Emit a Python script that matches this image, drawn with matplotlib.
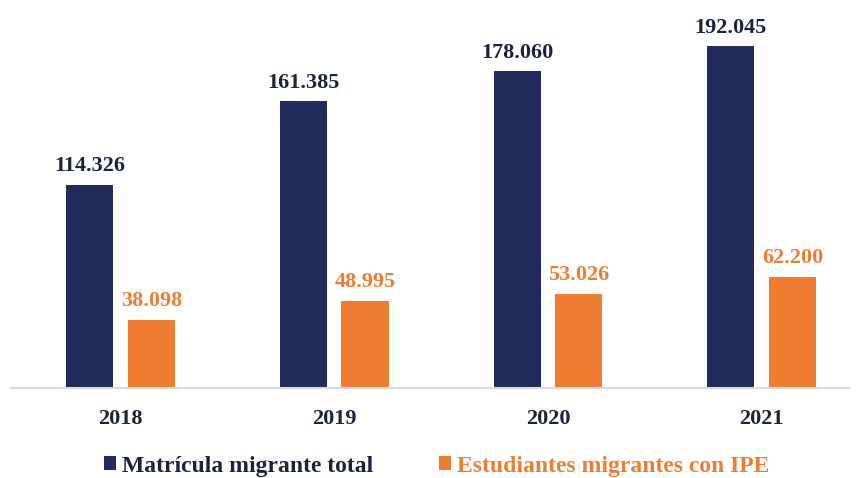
import matplotlib.pyplot as plt
import numpy as np
from matplotlib.patches import Patch

years = ["2018", "2019", "2020", "2021"]
matricula_total = [114326, 161385, 178060, 192045]
estudiantes_ipe = [38098, 48995, 53026, 62200]
series_names = ["Matrícula migrante total", "Estudiantes migrantes con IPE"]

NAVY = "#212B5C"
ORANGE = "#ED7D31"
LABEL_DARK = "#1C2340"


def fmt_miles(v):
    # thousands separator with a dot
    return f"{v:,}".replace(",", ".")


plt.rcParams["font.family"] = ["Liberation Serif", "DejaVu Serif"]
plt.rcParams["font.weight"] = "bold"

fig = plt.figure(figsize=(8.59, 4.78), dpi=100)
ax = fig.add_axes([0.0128, 0.1883, 0.9756, 0.8117])

x = np.arange(len(years))
width = 0.22
offset = 0.144

bars_total = ax.bar(x - offset, matricula_total, width, color=NAVY)
bars_ipe = ax.bar(x + offset, estudiantes_ipe, width, color=ORANGE)

for rect, v in zip(bars_total, matricula_total):
    ax.annotate(fmt_miles(v), (rect.get_x() + rect.get_width() / 2, v),
                xytext=(0, 9.5), textcoords="offset points",
                ha="center", va="baseline", fontsize=16, fontweight="bold", color=LABEL_DARK)
for rect, v in zip(bars_ipe, estudiantes_ipe):
    ax.annotate(fmt_miles(v), (rect.get_x() + rect.get_width() / 2, v),
                xytext=(0, 10), textcoords="offset points",
                ha="center", va="baseline", fontsize=16, fontweight="bold", color=ORANGE)

ax.set_xlim(-0.5125, 3.409)
ax.set_ylim(0, 218000)
ax.set_xticks(x)
ax.set_xticklabels(years, fontsize=16, fontweight="bold", color=LABEL_DARK)
ax.tick_params(axis="x", length=0, pad=15)
ax.set_yticks([])
for side in ["top", "left", "right"]:
    ax.spines[side].set_visible(False)
ax.spines["bottom"].set_color("#D9D9D9")
ax.spines["bottom"].set_linewidth(1.5)

# legend below the plot, text coloured like its series
handles = [Patch(facecolor=NAVY), Patch(facecolor=ORANGE)]
leg = fig.legend(handles, series_names, loc="center", bbox_to_anchor=(0.508, 0.025),
                 ncol=2, frameon=False,
                 prop={"family": "Liberation Serif", "weight": "bold", "size": 17},
                 handlelength=0.5, handleheight=0.5,
                 handletextpad=0.25, columnspacing=2.8)
for txt, col in zip(leg.get_texts(), [LABEL_DARK, ORANGE]):
    txt.set_color(col)

fig.savefig("out.png", dpi=100)
